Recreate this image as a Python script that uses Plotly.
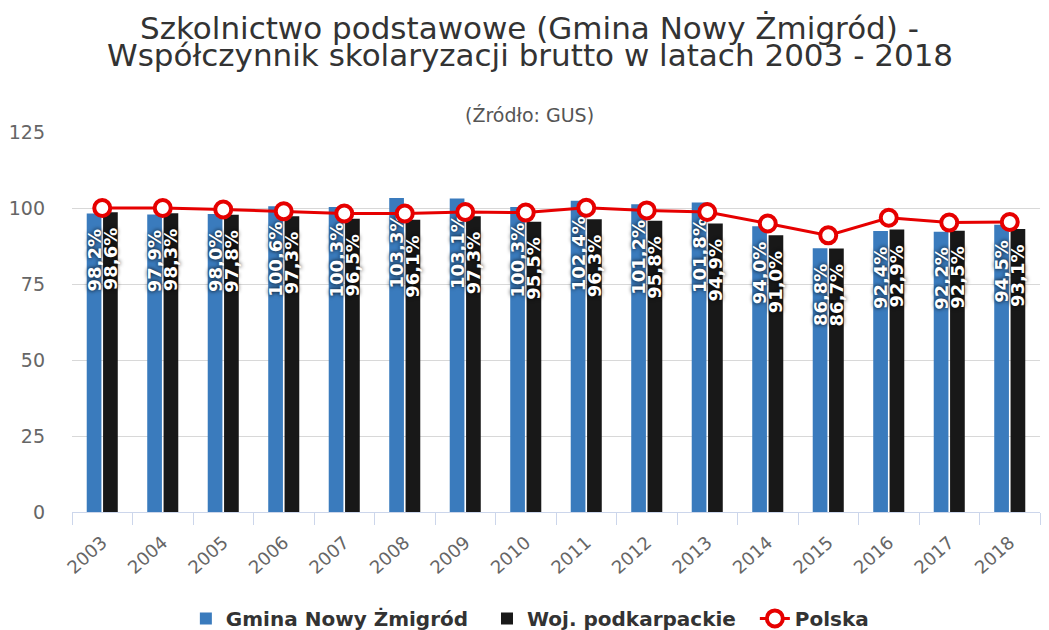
import plotly.graph_objects as go

lata = [str(r) for r in range(2003, 2019)]
gmina = [98.2, 97.9, 98.0, 100.6, 100.3, 103.3, 103.1, 100.3, 102.4, 101.2, 101.8, 94.0, 86.8, 92.4, 92.2, 94.5]
wojewodztwo = [98.6, 98.3, 97.8, 97.3, 96.5, 96.1, 97.3, 95.5, 96.3, 95.8, 94.9, 91.0, 86.7, 92.9, 92.5, 93.1]
polska = [100.0, 100.0, 99.5, 98.9, 98.2, 98.2, 98.7, 98.5, 100.1, 99.2, 98.7, 94.9, 91.0, 96.8, 95.2, 95.4]

FONT = "DejaVu Sans"
NBSP = "\u00a0"

def etykiety(wartosci):
    # przecinek dziesiętny + odstęp od szczytu słupka
    return [f"{v:.1f}%".replace(".", ",") + NBSP * 2 for v in wartosci]

fig = go.Figure()

for nazwa, dane, kolor in [("Gmina Nowy Żmigród", gmina, "#3a7bbd"),
                           ("Woj. podkarpackie", wojewodztwo, "#181818")]:
    fig.add_trace(go.Bar(
        x=lata, y=dane, name=nazwa + NBSP * 2,
        marker=dict(color=kolor, line=dict(width=0)),
        text=etykiety(dane),
        textposition="inside",
        insidetextanchor="end",
        textangle=-90,
        constraintext="none",
        textfont=dict(family=FONT, size=18, color="white", weight="bold",
                      shadow="0px 0px 4px #000"),
    ))

fig.add_trace(go.Scatter(
    x=lata, y=polska, name="Polska",
    mode="lines+markers",
    line=dict(color="#e60000", width=3),
    marker=dict(symbol="circle", size=16, color="white",
                line=dict(color="#e60000", width=4)),
))

# tytuł w dwóch wierszach + źródło
for tekst, y, rozmiar, kolor in [
    ("Szkolnictwo podstawowe (Gmina Nowy Żmigród) -", 1.2745, 31, "#333333"),
    ("Współczynnik skolaryzacji brutto w latach 2003 - 2018", 1.2018, 31, "#333333"),
    ("(Źródło: GUS)", 1.045, 19, "#555555"),
]:
    fig.add_annotation(text=tekst, x=0.473, xref="paper", y=y, yref="paper",
                       xanchor="center", yanchor="middle", showarrow=False,
                       font=dict(family=FONT, size=rozmiar, color=kolor))

# strona ma 8 px marginesu, więc figura jest o tyle mniejsza
fig.update_layout(
    width=1041, height=622,
    paper_bgcolor="white", plot_bgcolor="white",
    margin=dict(l=64, r=9, t=124, b=118, autoexpand=False),
    barmode="group", bargap=0.46, bargroupgap=0.1,
    showlegend=True,
    legend=dict(
        orientation="h", x=0.473, xanchor="center", y=-0.28, yanchor="middle",
        font=dict(family=FONT, size=20, color="#333333", weight="bold"),
        itemwidth=30,
    ),
    xaxis=dict(
        type="category", range=[-0.5, 15.5], tickson="boundaries",
        ticks="outside", ticklen=12, tickcolor="#ccd6eb",
        showline=True, linecolor="#ccd6eb", showgrid=False,
        tickangle=-42, tickfont=dict(family=FONT, size=18, color="#666666"),
        ticklabelstandoff=12, automargin=False,
    ),
    yaxis=dict(
        range=[0, 125], tick0=0, dtick=25,
        showgrid=True, gridcolor="#d8d8d8", zeroline=False,
        tickfont=dict(family=FONT, size=19, color="#666666"),
        ticklabelstandoff=26, automargin=False,
    ),
)

fig.write_html("out.html")
